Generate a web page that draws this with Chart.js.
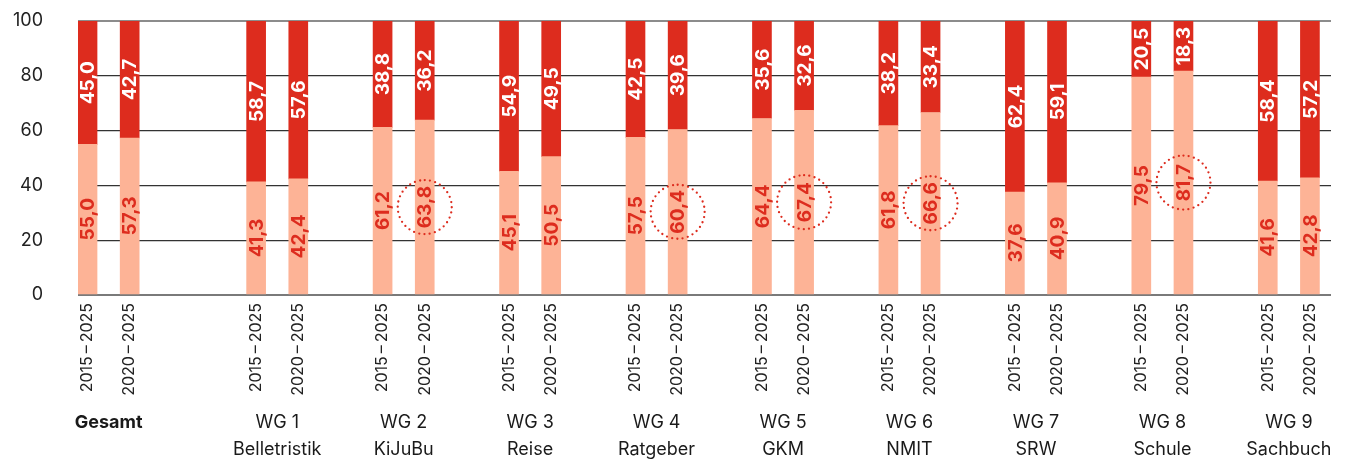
<!DOCTYPE html>
<html lang="de">
<head>
<meta charset="utf-8">
<title>Anteile nach Warengruppen</title>
<script src="https://cdn.jsdelivr.net/npm/chart.js@4.4.1/dist/chart.umd.min.js"></script>
<style>
  html, body { margin: 0; padding: 0; background: #fff; }
  #wrap { width: 1352px; height: 460px; }
</style>
</head>
<body>
<div id="wrap"><canvas id="myChart" width="1352" height="460"></canvas></div>
<script>
// Warengruppen (group labels, one or two lines each)
const groups = [
    ['Gesamt'],
    ['WG 1', 'Belletristik'],
    ['WG 2', 'KiJuBu'],
    ['WG 3', 'Reise'],
    ['WG 4', 'Ratgeber'],
    ['WG 5', 'GKM'],
    ['WG 6', 'NMIT'],
    ['WG 7', 'SRW'],
    ['WG 8', 'Schule'],
    ['WG 9', 'Sachbuch']
];
const periods = ['2015\u2009–\u20092025', '2020\u2009–\u20092025'];

// lower (light) and upper (dark) shares, per period
const lower2015 = [55.0, 41.3, 61.2, 45.1, 57.5, 64.4, 61.8, 37.6, 79.5, 41.6];
const upper2015 = [45.0, 58.7, 38.8, 54.9, 42.5, 35.6, 38.2, 62.4, 20.5, 58.4];
const lower2020 = [57.3, 42.4, 63.8, 50.5, 60.4, 67.4, 66.6, 40.9, 81.7, 42.8];
const upper2020 = [42.7, 57.6, 36.2, 49.5, 39.6, 32.6, 33.4, 59.1, 18.3, 57.2];
// 2020 values that get a dotted ring
const circled2020 = [false, false, true, false, true, true, true, false, true, false];

const yTicks = [0, 20, 40, 60, 80, 100];

const RED = '#dd2c1e';
const SALMON = '#fdb396';
const FONT = 'Inter';

// bar slot on the x scale: Gesamt takes 0/1, then a wider gap, then 3 slots per group
const slotOf = (g, p) => (g === 0 ? 0 : g * 3 + 1) + p;

const lowerData = [];
const upperData = [];
const periodTicks = [];
groups.forEach((g, i) => {
    lowerData.push({ x: slotOf(i, 0), y: lower2015[i] });
    lowerData.push({ x: slotOf(i, 1), y: lower2020[i], circled: circled2020[i] });
    upperData.push({ x: slotOf(i, 0), y: upper2015[i] });
    upperData.push({ x: slotOf(i, 1), y: upper2020[i] });
    periodTicks.push({ value: slotOf(i, 0), label: periods[0] });
    periodTicks.push({ value: slotOf(i, 1), label: periods[1] });
});
const groupTicks = groups.map((g, i) => ({ value: slotOf(i, 0) + 0.5, label: g }));

const fmt = v => v.toFixed(1).replace('.', ',');

// keep the plot area where the layout padding puts it
const noPad = scale => {
    scale.paddingLeft = 0;
    scale.paddingRight = 0;
    scale.paddingTop = 0;
    scale.paddingBottom = 0;
};

// values written vertically inside each segment, plus dotted rings
const segmentLabels = {
    id: 'segmentLabels',
    afterDatasetsDraw(chart) {
        const ctx = chart.ctx;
        chart.data.datasets.forEach((ds, di) => {
            const meta = chart.getDatasetMeta(di);
            meta.data.forEach((bar, i) => {
                const pt = ds.data[i];
                const cy = (bar.y + bar.base) / 2;
                ctx.save();
                ctx.translate(bar.x, cy);
                ctx.rotate(-Math.PI / 2);
                ctx.font = 'bold 19px ' + FONT;
                ctx.fillStyle = ds.labelColor;
                ctx.textAlign = 'center';
                ctx.textBaseline = 'middle';
                ctx.fillText(fmt(pt.y), 0, 1);
                if (pt.circled) {
                    ctx.beginPath();
                    ctx.arc(0, 0, 27, 0, Math.PI * 2);
                    ctx.setLineDash([0, 5.3]);
                    ctx.lineCap = 'round';
                    ctx.lineWidth = 2.3;
                    ctx.strokeStyle = RED;
                    ctx.stroke();
                }
                ctx.restore();
            });
        });
    }
};

const ctx = document.getElementById('myChart').getContext('2d');

const myChart = new Chart(ctx, {
    type: 'bar',
    data: {
        datasets: [{
            data: lowerData,
            backgroundColor: SALMON,
            labelColor: RED,
            barThickness: 19
        }, {
            data: upperData,
            backgroundColor: RED,
            labelColor: '#ffffff',
            barThickness: 19
        }]
    },
    options: {
        responsive: false,
        animation: false,
        devicePixelRatio: 1,
        layout: { padding: { top: 21, right: 21, left: 0, bottom: 0 } },
        plugins: {
            legend: { display: false },
            tooltip: { enabled: false }
        },
        scales: {
            x: {
                type: 'linear',
                stacked: true,
                offset: false,
                min: -0.226,
                max: 29.5,
                weight: 1,
                grid: { display: false, drawTicks: false },
                border: { display: false },
                afterBuildTicks: scale => { scale.ticks = periodTicks.map(t => ({ value: t.value })); },
                afterFit: scale => { scale.height = 100; noPad(scale); },
                ticks: {
                    autoSkip: false,
                    minRotation: 90,
                    maxRotation: 90,
                    padding: 8,
                    color: '#222',
                    font: { family: FONT, size: 16 },
                    callback: (value, index) => periodTicks[index].label
                }
            },
            x2: {
                type: 'linear',
                position: 'bottom',
                offset: false,
                min: -0.226,
                max: 29.5,
                weight: 2,
                grid: { display: false, drawTicks: false },
                border: { display: false },
                afterBuildTicks: scale => { scale.ticks = groupTicks.map(t => ({ value: t.value })); },
                afterFit: scale => { scale.height = 65; noPad(scale); },
                ticks: {
                    autoSkip: false,
                    maxRotation: 0,
                    padding: 14,
                    color: '#1a1a1a',
                    font: c => ({ family: FONT, size: 18, lineHeight: 1.5, weight: c.index === 0 ? 'bold' : 'normal' }),
                    callback: (value, index) => groupTicks[index].label
                }
            },
            y: {
                stacked: true,
                min: 0,
                max: 100,
                afterBuildTicks: scale => { scale.ticks = yTicks.map(v => ({ value: v })); },
                afterFit: scale => { scale.width = 78; noPad(scale); },
                border: { display: false },
                grid: {
                    drawTicks: false,
                    color: c => (c.tick.value === 100 ? '#8c8c8c' : c.tick.value === 0 ? '#7a7a7a' : '#333333'),
                    lineWidth: c => (c.tick.value === 100 || c.tick.value === 0 ? 2 : 1.2)
                },
                ticks: {
                    padding: 35,
                    color: '#222',
                    font: { family: FONT, size: 18 }
                }
            }
        }
    },
    plugins: [segmentLabels]
});
</script>
</body>
</html>
